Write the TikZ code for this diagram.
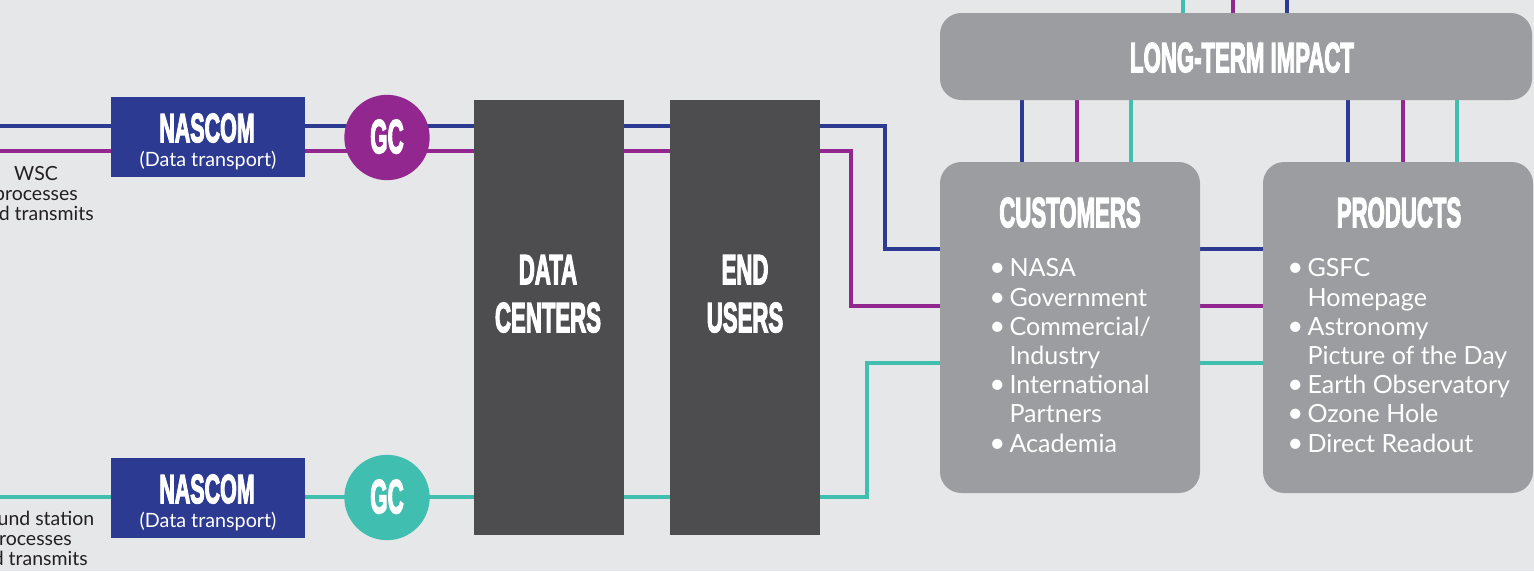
\documentclass[tikz,border=0pt]{standalone}
\usepackage{fontspec}
\usepackage{graphicx}
\setmainfont{Lato}
\newfontfamily\headfont[FakeBold=4]{Liberation Sans Bold}
\usetikzlibrary{backgrounds}
\definecolor{bgc}{HTML}{E6E7E8}
\definecolor{nblue}{HTML}{2C3A91}
\definecolor{npurple}{HTML}{92278F}
\definecolor{nteal}{HTML}{40BFB1}
\definecolor{dgray}{HTML}{4D4D4F}
\definecolor{lgray}{HTML}{9C9DA0}
\definecolor{txt}{HTML}{231F20}
\newcommand{\hd}[2][0.53]{\scalebox{#1}[1]{#2}}
\newcommand{\bu}{\makebox[15.2pt][l]{\scalebox{1.1}{\textbullet}}}
\newcommand{\ind}{\hspace*{15.2pt}}
\pgfdeclarelayer{back}
\pgfsetlayers{back,background,main}
\begin{document}
\begin{tikzpicture}[x=0.75pt,y=-0.75pt,
  link/.style={line width=3.4pt},
  bl/.style={link,draw=nblue},
  pu/.style={link,draw=npurple},
  te/.style={link,draw=nteal},
  nasbox/.style={fill=nblue, minimum width=145.5pt, minimum height=60pt, inner sep=0},
  gcirc/.style={circle, minimum size=64pt, inner sep=0},
  tower/.style={fill=dgray, minimum width=112.5pt, minimum height=326.25pt, inner sep=0},
  gbox/.style={fill=lgray, rounded corners=16pt, inner sep=0},
  head/.style={text=white, inner sep=0, font=\headfont\fontsize{31.4}{31.4}\selectfont},
  headS/.style={head, font=\headfont\fontsize{30.4}{30.4}\selectfont},
  headL/.style={head, font=\headfont\fontsize{35.6}{35.6}\selectfont},
  sub/.style={text=white, inner sep=0, font=\fontsize{14.8}{16}\selectfont},
  side/.style={text=txt, inner sep=0, align=center, font=\fontsize{14.6}{15}\selectfont},
  items/.style={text=white, inner sep=0, align=left, font=\fontsize{18.8}{21.9}\selectfont}
]
\useasboundingbox (0,0) rectangle (1534,571);
\clip (0,0) rectangle (1534,571);
\begin{pgfonlayer}{back}
  \fill[bgc] (0,0) rectangle (1534,571);
\end{pgfonlayer}

% boxes
\node[nasbox] (nasT) at (208,137) {};
\node[nasbox] (nasB) at (208,498) {};
\node[gcirc, fill=npurple] (gcT) at (387,137.5) {};
\node[gcirc, fill=nteal] (gcB) at (387,497.5) {};
\node[tower] (dc) at (549,317.5) {};
\node[tower] (eu) at (745,317.5) {};
\node[gbox, minimum width=444pt, minimum height=65.25pt] (lt) at (1236,56.5) {};
\node[gbox, minimum width=195pt, minimum height=248.25pt] (cu) at (1070,327.5) {};
\node[gbox, minimum width=202.5pt, minimum height=248.25pt] (pr) at (1398,327.5) {};

% texts
\node[headS, anchor=base] (nasTt) at (207,142) {\hd{NASCOM}};
\node[sub, anchor=base] (nasTs) at (208,166) {(Data transport)};
\node[headS, anchor=base] (nasBt) at (207,503) {\hd{NASCOM}};
\node[sub, anchor=base] (nasBs) at (208,527) {(Data transport)};
\node[headL, anchor=base] (gcTt) at (387,153) {\hd[0.47]{GC}};
\node[headL, anchor=base] (gcBt) at (387,513) {\hd[0.47]{GC}};
\node[head, anchor=base] (dc1) at (548,284) {\hd{DATA}};
\node[head, anchor=base] (dc2) at (548,332) {\hd{CENTERS}};
\node[head, anchor=base] (eu1) at (745,284) {\hd{END}};
\node[head, anchor=base] (eu2) at (745,332) {\hd{USERS}};
\node[head, anchor=base] (ltt) at (1242,72) {\hd{LONG-TERM IMPACT}};
\node[head, anchor=base] (cut) at (1070,227) {\hd{CUSTOMERS}};
\node[head, anchor=base] (prt) at (1399,227) {\hd{PRODUCTS}};

\node[items, anchor=north west] (cul) at (989,258.5) {\bu NASA\\ \bu Government\\ \bu Commercial/\\ \ind Industry\\ \bu International\\ \ind Partners\\ \bu Academia};
\node[items, anchor=north west] (prl) at (1287,258.5) {\bu GSFC\\ \ind Homepage\\ \bu Astronomy\\ \ind Picture of the Day\\ \bu Earth Observatory\\ \bu Ozone Hole\\ \bu Direct Readout};

\node[side, anchor=north] (wsc) at (36,166.5) {WSC\\processes\\and transmits};
\node[side, anchor=north] (gs) at (30,510.5) {Ground station\\processes\\and transmits};

% connectors
\coordinate (bL) at (0,126);
\coordinate (pL) at (0,151);
\coordinate (tL) at (0,497);
\coordinate (bT) at (885,249);
\coordinate (pT) at (851,306);
\coordinate (tT) at (867,363);
\begin{scope}[on background layer]
  \draw[bl] (bL) -- (nasT.west |- bL);
  \draw[pu] (pL) -- (nasT.west |- pL);
  \draw[te] (tL) -- (nasB.west |- tL);
  \draw[bl] (nasT.east |- bL) -- (dc.west |- bL);
  \draw[pu] (nasT.east |- pL) -- (dc.west |- pL);
  \draw[te] (nasB.east |- tL) -- (dc.west |- tL);
  \draw[bl] (dc.east |- bL) -- (eu.west |- bL);
  \draw[pu] (dc.east |- pL) -- (eu.west |- pL);
  \draw[te] (dc.east |- tL) -- (eu.west |- tL);
  \draw[bl] (eu.east |- bL) -| (bT) -- (cu.west |- bT);
  \draw[pu] (eu.east |- pL) -| (pT) -- (cu.west |- pT);
  \draw[te] (eu.east |- tL) -| (tT) -- (cu.west |- tT);
  \draw[bl] (cu.east |- bT) -- (pr.west |- bT);
  \draw[pu] (cu.east |- pT) -- (pr.west |- pT);
  \draw[te] (cu.east |- tT) -- (pr.west |- tT);
  \draw[bl] (lt.south -| 1022,0) -- (cu.north -| 1022,0);
  \draw[pu] (lt.south -| 1077,0) -- (cu.north -| 1077,0);
  \draw[te] (lt.south -| 1131,0) -- (cu.north -| 1131,0);
  \draw[bl] (lt.south -| 1348,0) -- (pr.north -| 1348,0);
  \draw[pu] (lt.south -| 1403,0) -- (pr.north -| 1403,0);
  \draw[te] (lt.south -| 1457,0) -- (pr.north -| 1457,0);
  \draw[te] (1183,0) -- (lt.north -| 1183,0);
  \draw[pu] (1233,0) -- (lt.north -| 1233,0);
  \draw[bl] (1287,0) -- (lt.north -| 1287,0);
\end{scope}
\end{tikzpicture}
\end{document}
